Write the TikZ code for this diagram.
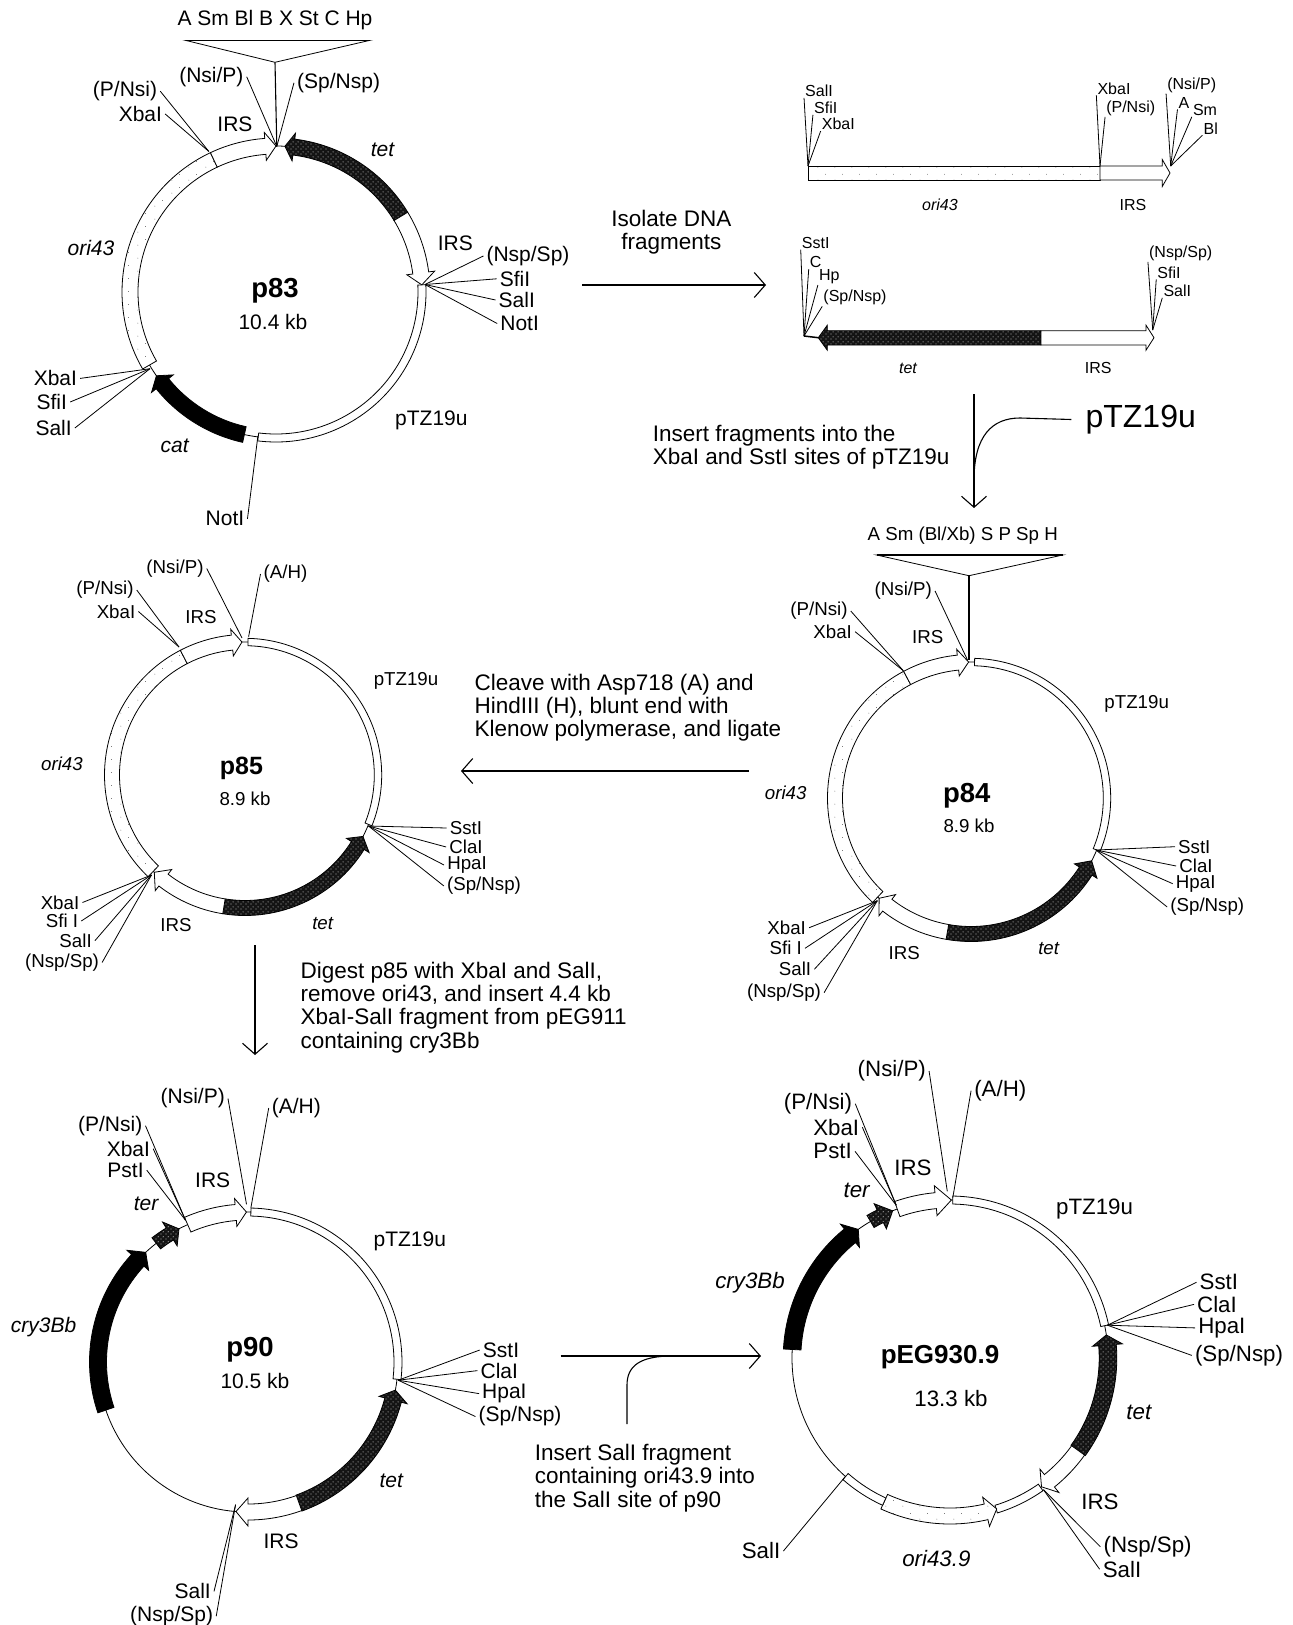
\documentclass[tikz,border=0pt]{standalone}
\usepackage{fontspec}
\setmainfont{Liberation Sans}
\usetikzlibrary{arrows.meta,positioning,patterns}

\pgfdeclarepatternformonly{sparsedots}{\pgfqpoint{0pt}{0pt}}{\pgfqpoint{17pt}{13pt}}{\pgfqpoint{17pt}{13pt}}{%
  \pgfpathcircle{\pgfqpoint{2pt}{2pt}}{.45pt}\pgfpathcircle{\pgfqpoint{10pt}{8pt}}{.45pt}\pgfusepath{fill}}
\pgfdeclarepatternformonly{tetdots}{\pgfqpoint{0pt}{0pt}}{\pgfqpoint{5pt}{5pt}}{\pgfqpoint{5pt}{5pt}}{%
  \pgfpathcircle{\pgfqpoint{1.2pt}{1.2pt}}{.75pt}\pgfpathcircle{\pgfqpoint{3.7pt}{3.7pt}}{.75pt}\pgfusepath{fill}}

\tikzset{
  lab/.style={font=\fontsize{18.7}{20}\selectfont,inner sep=3pt,yshift=-1pt},
  labm/.style={font=\fontsize{21}{23}\selectfont,inner sep=3pt,yshift=-2pt},
  labl/.style={font=\fontsize{22.3}{24}\selectfont,inner sep=3pt,yshift=-2pt},
  labs/.style={font=\fontsize{16}{17}\selectfont,inner sep=1pt},
  stepcap/.style={font=\fontsize{22.5}{23.2}\selectfont,align=left,inner sep=0pt,yshift=-3pt},
  pname/.style={font=\fontsize{27.5}{29}\selectfont\bfseries,yshift=-2pt},
  ring/.style={line width=.8pt},
  siteline/.style={line width=.8pt},
  whiteband/.style={draw,line width=.8pt,fill=white},
  oriband/.style={draw,line width=.8pt,preaction={fill=white},pattern=sparsedots,pattern color=black!70},
  tetband/.style={draw,line width=.8pt,preaction={fill=black!92},pattern=tetdots,pattern color=black!35},
  blackband/.style={draw,line width=.8pt,fill=black},
  steparrow/.style={line width=1.1pt,-{Straight Barb[length=11pt,width=25pt]}},
}

\newcommand{\bandseg}[4]{\draw[#1] (#2:{\R-#4}) arc[start angle=#2,end angle=#3,radius={\R-#4}] -- (#3:{\R+#4}) arc[start angle=#3,end angle=#2,radius={\R+#4}] -- cycle;}
\newcommand{\genearrow}[6]{\draw[#1] (#2:{\R-#5}) arc[start angle=#2,end angle=#3,radius={\R-#5}] -- (#3:{\R-#6}) -- (#4:\R) -- (#3:{\R+#6}) -- (#3:{\R+#5}) arc[start angle=#3,end angle=#2,radius={\R+#5}] -- cycle;}

\begin{document}
\begin{tikzpicture}[x=1pt,y=1pt]
\useasboundingbox (0,0) rectangle (1293,-1625);

% p83
\begin{scope}[shift={(276,-292)}]
\def\R{146}
\draw[ring] (0,0) circle[radius=\R];
\bandseg{oriband}{210}{115.2}{8}
\genearrow{whiteband}{115.2}{94.2}{90}{8}{14}
\genearrow{tetband}{31.2}{83}{86.5}{8}{14}
\genearrow{whiteband}{31.2}{7.5}{2.8}{8}{14}
\bandseg{whiteband}{2.8}{-97}{4}
\genearrow{blackband}{257.5}{218.9}{215}{8}{14}
\end{scope}
\node[pname] (p83) at (275,-289) {p83};
\node[labm] (p83size) at (273,-320) {10.4 kb};
\node[labm] (p83mcs) at (275,-18.5) {A Sm Bl B X St C Hp};
\coordinate (p83tl) at (185.7,-40.4);
\coordinate (p83tr) at (369.6,-40.4);
\coordinate (p83tb) at (275,-62.3);
\coordinate (p83a) at (276.8,-146.5);
\coordinate (p83b) at (208.9,-151.5);
\coordinate (p83c) at (425,-284.5);
\coordinate (p83d) at (150,-368.7);
\coordinate (p83e) at (257.9,-436);
\draw[siteline] (p83tl) -- (p83tr) -- (p83tb) -- cycle;
\draw[line width=1.8pt] (p83tl) -- (p83tr);
\draw[line width=1.1pt] (p83tb) -- (p83a);
\node[labm] (p83nsi) at (211.4,-74.7) {(Nsi/P)};
\node[labm] (p83sp) at (338.6,-80.8) {(Sp/Nsp)};
\node[labm] (p83pnsi) at (125,-89.2) {(P/Nsi)};
\node[labm] (p83xba) at (140.4,-112) {XbaI};
\node[labm] (p83irs) at (235,-121.9) {IRS};
\node[labm] (p83tet) at (382.9,-147.5) {\textit{tet}};
\node[labm] (p83ori) at (91,-245.8) {\textit{ori43}};
\node[labm] (p83irs2) at (455.4,-241.4) {IRS};
\node[labm] (p83nsp) at (528,-254) {(Nsp/Sp)};
\node[labm] (p83sfi) at (515,-276.8) {SfiI};
\node[labm] (p83sal) at (516.8,-298) {SalI};
\node[labm] (p83not) at (519.6,-321.5) {NotI};
\node[labm] (p83xba2) at (55.4,-376.4) {XbaI};
\node[labm] (p83sfi2) at (51.8,-400) {SfiI};
\node[labm] (p83sal2) at (53.6,-426) {SalI};
\node[labm] (p83cat) at (175,-443.8) {\textit{cat}};
\node[labm] (p83ptz) at (431.4,-418.5) {pTZ19u};
\node[labm] (p83not2) at (225,-516.8) {NotI};
\draw[siteline] (p83nsi.east) -- (p83a);
\draw[siteline] (p83sp.west) -- (p83a);
\draw[siteline] (p83pnsi.east) -- (p83b);
\draw[siteline] (p83xba.east) -- (p83b);
\foreach \l in {p83nsp,p83sfi,p83sal,p83not} \draw[siteline] (\l.west) -- (p83c);
\foreach \l in {p83xba2,p83sfi2,p83sal2} \draw[siteline] (\l.east) -- (p83d);
\draw[siteline] (p83not2.east) -- (p83e);

% fragments
\coordinate (fraga) at (808,-166);
\coordinate (fragb) at (1100,-166);
\coordinate (fragc) at (1170.7,-166);
\draw[oriband] (fraga) rectangle (1100,-180);
\draw[whiteband] (fragb) -- (1162.3,-166) -- (1162.3,-159.6) -- (1170,-173) -- (1162.3,-186.4) -- (1162.3,-180) -- (1100,-180) -- cycle;
\node[labs] (fragsal) at (819,-90.7) {SalI};
\node[labs] (fragsfi) at (825.7,-107.7) {SfiI};
\node[labs] (fragxba) at (838.3,-124) {XbaI};
\node[labs] (fragxba2) at (1114,-88.3) {XbaI};
\node[labs] (fragpnsi) at (1130.7,-108.3) {(P/Nsi)};
\node[labs] (fragnsi) at (1191.7,-85) {(Nsi/P)};
\node[labs] (fragaa) at (1184,-102.7) {A};
\node[labs] (fragsm) at (1205,-110) {Sm};
\node[labs] (fragbl) at (1210.7,-128.3) {Bl};
\node[labs] (fragori) at (940,-205) {\textit{ori43}};
\node[labs] (fragirs) at (1133,-205) {IRS};
\draw[siteline] (fragsal.south west) -- (fraga);
\draw[siteline] (fragsfi.south west) -- (fraga);
\draw[siteline] (fragxba.south west) -- (fraga);
\draw[siteline] (fragxba2.south west) -- (fragb);
\draw[siteline] (fragpnsi.south west) -- (fragb);
\draw[siteline] (fragnsi.south west) -- (fragc);
\foreach \l in {fragaa,fragsm,fragbl} \draw[siteline] (\l.south west) -- (fragc);

\coordinate (frage) at (804,-336);
\coordinate (fragf) at (1152.7,-330);
\draw[line width=1.5pt] (frage) -- (818.3,-337.7);
\draw[tetband] (1041,-330.7) -- (827.3,-330.7) -- (827.3,-325.2) -- (818.3,-337.7) -- (827.3,-350.2) -- (827.3,-345) -- (1041,-345) -- cycle;
\draw[whiteband] (1041,-330.7) -- (1146,-330.7) -- (1146,-325.2) -- (1154,-337.7) -- (1146,-350.2) -- (1146,-345) -- (1041,-345) -- cycle;
\node[labs] (fragsst) at (815.7,-242.7) {SstI};
\node[labs] (fragcc) at (815.7,-262.3) {C};
\node[labs] (fraghp) at (829.3,-276.7) {Hp};
\node[labs] (fragsp) at (855,-297.7) {(Sp/Nsp)};
\node[labs] (fragnsp) at (1180.7,-253.3) {(Nsp/Sp)};
\node[labs] (fragsfi2) at (1169,-272.3) {SfiI};
\node[labs] (fragsal2) at (1177.3,-290.7) {SalI};
\node[labs] (fragtet) at (908.3,-368.3) {\textit{tet}};
\node[labs] (fragirs2) at (1098.3,-368.3) {IRS};
\foreach \l in {fragsst,fragcc,fraghp,fragsp} \draw[siteline] (\l.south west) -- (frage);
\foreach \l in {fragnsp,fragsfi2,fragsal2} \draw[siteline] (\l.south west) -- (fragf);

% p84
\begin{scope}[shift={(971,-798)}]
\def\R{136}
\draw[ring] (0,0) circle[radius=\R];
\bandseg{oriband}{226.7}{118}{7.5}
\genearrow{whiteband}{118}{95.5}{91}{7.5}{13.4}
\bandseg{whiteband}{88.5}{-22.5}{3.7}
\genearrow{tetband}{-100}{-32.5}{-27.5}{7.5}{13.4}
\genearrow{whiteband}{260}{232}{227.5}{7.5}{13.4}
\end{scope}
\node[pname] (p84) at (966.7,-794) {p84};
\node[lab] (p84size) at (969,-825) {8.9 kb};
\node[lab] (p84mcs) at (962.7,-535) {A Sm (Bl/Xb) S P Sp H};
\coordinate (p84tl) at (876.7,-555);
\coordinate (p84tr) at (1062.7,-555);
\coordinate (p84tb) at (969,-575.7);
\coordinate (p84a) at (967.5,-660);
\coordinate (p84b) at (903.3,-670.7);
\coordinate (p84c) at (1096,-850);
\coordinate (p84d) at (877.3,-900.7);
\draw[siteline] (p84tl) -- (p84tr) -- (p84tb) -- cycle;
\draw[line width=1.8pt] (p84tl) -- (p84tr);
\draw[line width=1.1pt] (p84tb) -- (969,-660);
\node[lab] (p84nsi) at (903.3,-590) {(Nsi/P)};
\node[lab] (p84pnsi) at (819,-610) {(P/Nsi)};
\node[lab] (p84xba) at (832.7,-630.7) {XbaI};
\node[lab] (p84irs) at (927.7,-636) {IRS};
\node[lab] (p84ptz) at (1136.7,-702.7) {pTZ19u};
\node[lab] (p84ori) at (785.7,-791.7) {\textit{ori43}};
\node[lab] (p84sst) at (1194.3,-845.7) {SstI};
\node[lab] (p84cla) at (1196,-865) {ClaI};
\node[lab] (p84hpa) at (1195.7,-882.7) {HpaI};
\node[lab] (p84sp) at (1207.3,-906) {(Sp/Nsp)};
\node[lab] (p84xba2) at (786.7,-926.7) {XbaI};
\node[lab] (p84sfi) at (785.7,-947.3) {Sfi I};
\node[lab] (p84sal) at (795,-968.3) {SalI};
\node[lab] (p84nsp) at (784,-991.7) {(Nsp/Sp)};
\node[lab] (p84irs2) at (904.3,-951.7) {IRS};
\node[lab] (p84tet) at (1049,-947.3) {\textit{tet}};
\draw[siteline] (p84nsi.east) -- (p84a);
\draw[siteline] (p84pnsi.east) -- (p84b);
\draw[siteline] (p84xba.east) -- (p84b);
\foreach \l in {p84sst,p84cla,p84hpa,p84sp} \draw[siteline] (\l.west) -- (p84c);
\foreach \l in {p84xba2,p84sfi,p84sal,p84nsp} \draw[siteline] (\l.east) -- (p84d);

% p85
\begin{scope}[shift={(245,-775)}]
\def\R{133}
\draw[ring] (0,0) circle[radius=\R];
\bandseg{oriband}{226.4}{117.4}{7.5}
\genearrow{whiteband}{117.4}{95.6}{91.3}{7.5}{13.4}
\bandseg{whiteband}{88.7}{-21.8}{3.7}
\genearrow{tetband}{-99.1}{-32}{-27.5}{7.5}{13.4}
\genearrow{whiteband}{260.9}{232.2}{227}{7.5}{13.4}
\end{scope}
\node[pname,font=\fontsize{25}{27}\selectfont\bfseries] (p85) at (241.5,-766) {p85};
\node[lab] (p85size) at (245,-798) {8.9 kb};
\coordinate (p85a) at (242,-638);
\coordinate (p85b) at (248.6,-636.7);
\coordinate (p85c) at (179,-647);
\coordinate (p85d) at (368.5,-826);
\coordinate (p85e) at (151.5,-875);
\node[lab] (p85nsi) at (175,-567.5) {(Nsi/P)};
\node[lab] (p85ah) at (285.5,-573) {(A/H)};
\node[lab] (p85pnsi) at (105,-589) {(P/Nsi)};
\node[lab] (p85xba) at (116,-610.5) {XbaI};
\node[lab] (p85irs) at (201,-616) {IRS};
\node[lab] (p85ptz) at (406,-680) {pTZ19u};
\node[lab] (p85ori) at (62,-763) {\textit{ori43}};
\node[lab] (p85sst) at (466,-827) {SstI};
\node[lab] (p85cla) at (466,-846) {ClaI};
\node[lab] (p85hpa) at (467,-864) {HpaI};
\node[lab] (p85sp) at (484,-885) {(Sp/Nsp)};
\node[lab] (p85xba2) at (60,-901.5) {XbaI};
\node[lab] (p85sfi) at (62,-920) {Sfi I};
\node[lab] (p85sal) at (75.6,-939.7) {SalI};
\node[lab] (p85nsp) at (62,-961.5) {(Nsp/Sp)};
\node[lab] (p85irs2) at (176,-924.5) {IRS};
\node[lab] (p85tet) at (323,-922.5) {\textit{tet}};
\draw[siteline] (p85nsi.east) -- (p85a);
\draw[siteline] (p85ah.west) -- (p85b);
\draw[siteline] (p85pnsi.east) -- (p85c);
\draw[siteline] (p85xba.east) -- (p85c);
\foreach \l in {p85sst,p85cla,p85hpa,p85sp} \draw[siteline] (\l.west) -- (p85d);
\foreach \l in {p85xba2,p85sfi,p85sal,p85nsp} \draw[siteline] (\l.east) -- (p85e);

% p90
\begin{scope}[shift={(248,-1362)}]
\def\R{150}
\draw[ring] (0,0) circle[radius=\R];
\genearrow{whiteband}{113.7}{94.7}{90.6}{8}{14}
\bandseg{whiteband}{88.9}{-6.6}{4}
\genearrow{tetband}{-70.1}{-14.7}{-10.8}{8.5}{14.5}
\genearrow{whiteband}{-70.1}{-90}{-94.6}{8}{14}
\genearrow{blackband}{198.7}{137.3}{133}{8.5}{14.8}
\genearrow{tetband}{127.7}{121.4}{117.4}{7}{14}
\end{scope}
\node[pname] (p90) at (250,-1347.4) {p90};
\node[labm] (p90size) at (255,-1379) {10.5 kb};
\coordinate (p90a) at (246.5,-1204.3);
\coordinate (p90b) at (250.9,-1207.8);
\coordinate (p90c) at (185.5,-1220.2);
\coordinate (p90d) at (398.2,-1380.2);
\coordinate (p90e) at (235.6,-1504.6);
\node[labm] (p90nsi) at (192.7,-1096.5) {(Nsi/P)};
\node[labm] (p90ah) at (296.4,-1106) {(A/H)};
\node[labm] (p90pnsi) at (110.2,-1123.7) {(P/Nsi)};
\node[labm] (p90xba) at (128.4,-1146.7) {XbaI};
\node[labm] (p90pst) at (125.5,-1168.2) {PstI};
\node[labm] (p90irs) at (212.7,-1177.8) {IRS};
\node[labm] (p90ter) at (146.5,-1201.4) {\textit{ter}};
\node[labm] (p90ptz) at (409.8,-1239.6) {pTZ19u};
\node[labm] (p90cry) at (43.6,-1325) {\textit{cry3Bb}};
\node[labm] (p90sst) at (501,-1348) {SstI};
\node[labm] (p90cla) at (499.3,-1368.6) {ClaI};
\node[labm] (p90hpa) at (504.4,-1391.6) {HpaI};
\node[labm] (p90sp) at (520,-1414.5) {(Sp/Nsp)};
\node[labm] (p90tet) at (391.6,-1479.2) {\textit{tet}};
\node[labm] (p90irs2) at (281,-1538.9) {IRS};
\node[labm] (p90sal) at (192.7,-1589.4) {SalI};
\node[labm] (p90nsp) at (171.6,-1614.2) {(Nsp/Sp)};
\draw[siteline] (p90nsi.east) -- (p90a);
\draw[siteline] (p90ah.west) -- (p90b);
\foreach \l in {p90pnsi,p90xba,p90pst} \draw[siteline] (\l.east) -- (p90c);
\foreach \l in {p90sst,p90cla,p90hpa,p90sp} \draw[siteline] (\l.west) -- (p90d);
\foreach \l in {p90sal,p90nsp} \draw[siteline] (\l.east) -- (p90e);

% pEG930.9
\begin{scope}[shift={(950,-1358)}]
\def\R{158}
\draw[ring] (0,0) circle[radius=\R];
\bandseg{whiteband}{89}{11.8}{4}
\genearrow{whiteband}{109.5}{95.2}{89.5}{8}{15}
\genearrow{tetband}{120.2}{116.2}{111.3}{7}{14}
\genearrow{blackband}{176.9}{129.3}{125.5}{8.8}{15}
\genearrow{tetband}{-35.8}{4.7}{8.4}{8.8}{15}
\genearrow{whiteband}{-35.8}{-51}{-54.6}{8}{15}
\bandseg{whiteband}{-55}{-73}{4}
\genearrow{oriband}{-114.6}{-76.8}{-72.8}{8}{15}
\bandseg{whiteband}{228.6}{245.4}{4}
\end{scope}
\node[pname,font=\fontsize{26}{28}\selectfont\bfseries] (peg) at (940,-1355) {pEG930.9};
\node[labl] (pegsize) at (951,-1396.6) {13.3 kb};
\coordinate (pega) at (947.3,-1191.4);
\coordinate (pegb) at (952.8,-1197.6);
\coordinate (pegc) at (896.2,-1205.2);
\coordinate (pegd) at (1107.4,-1325.2);
\coordinate (pege) at (1043.5,-1489.7);
\coordinate (pegf) at (845,-1476.9);
\node[labl] (pegnsi) at (891.8,-1069) {(Nsi/P)};
\node[labl] (pegah) at (1000.3,-1088.6) {(A/H)};
\node[labl] (pegpnsi) at (818,-1101.7) {(P/Nsi)};
\node[labl] (pegxba) at (836.2,-1125.2) {XbaI};
\node[labl] (pegpst) at (832.6,-1149.3) {PstI};
\node[labl] (pegirs) at (913,-1165.5) {IRS};
\node[labl] (pegter) at (857,-1188) {\textit{ter}};
\node[labl] (pegptz) at (1094.6,-1206.9) {pTZ19u};
\node[labl] (pegcry) at (750,-1281) {\textit{cry3Bb}};
\node[labl] (pegsst) at (1218.9,-1280.3) {SstI};
\node[labl] (pegcla) at (1217,-1302.4) {ClaI};
\node[labl] (peghpa) at (1221.8,-1325.9) {HpaI};
\node[labl] (pegsp) at (1239,-1353.4) {(Sp/Nsp)};
\node[labl] (pegtet) at (1139.2,-1410.3) {\textit{tet}};
\node[labl] (pegirs2) at (1100,-1500) {IRS};
\node[labl] (pegnsp) at (1147.6,-1544.8) {(Nsp/Sp)};
\node[labl] (pegsal) at (1122,-1567.2) {SalI};
\node[labl] (pegori) at (936.4,-1556.2) {\textit{ori43.9}};
\node[labl] (pegsal2) at (761,-1549) {SalI};
\draw[siteline] (pegnsi.east) -- (pega);
\draw[siteline] (pegah.west) -- (pegb);
\foreach \l in {pegpnsi,pegxba,pegpst} \draw[siteline] (\l.east) -- (pegc);
\foreach \l in {pegsst,pegcla,peghpa,pegsp} \draw[siteline] (\l.west) -- (pegd);
\foreach \l in {pegnsp,pegsal} \draw[siteline] (\l.west) -- (pege);
\draw[siteline] (pegsal2.east) -- (pegf);

% steps
\coordinate (stepaa) at (582,-285);
\coordinate (stepab) at (766,-285);
\draw[steparrow] (stepaa) -- (stepab);
\node[stepcap,align=center] (isolate) at (671.4,-229) {Isolate DNA\\fragments};

\coordinate (stepba) at (974,-394);
\coordinate (stepbb) at (974,-508);
\coordinate (stepbc) at (974,-480);
\draw[steparrow] (stepba) -- (stepbb);
\node[font=\fontsize{32}{34}\selectfont,inner sep=14pt,yshift=-2pt] (bigptz) at (1140.7,-417.5) {pTZ19u};
\draw[line width=1.1pt] (bigptz.west) -- (1020,-418) .. controls (992,-418) and (974,-436) .. (stepbc);
\node[stepcap,anchor=west] (insert) at (652.7,-444.5) {Insert fragments into the\\XbaI and SstI sites of pTZ19u};

\coordinate (stepca) at (749,-771);
\coordinate (stepcb) at (461,-771);
\draw[steparrow] (stepca) -- (stepcb);
\node[stepcap,anchor=west] (cleave) at (474.5,-704.5) {Cleave with Asp718 (A) and\\HindIII (H), blunt end with\\Klenow polymerase, and ligate};

\coordinate (stepda) at (255,-945);
\coordinate (stepdb) at (255,-1055);
\draw[steparrow] (stepda) -- (stepdb);
\node[stepcap,anchor=west] (digest) at (300.5,-1004.4) {Digest p85 with XbaI and SalI,\\remove ori43, and insert 4.4 kb\\XbaI-SalI fragment from pEG911\\containing cry3Bb};

\coordinate (stepea) at (560.5,-1356);
\coordinate (stepeb) at (761,-1356);
\coordinate (stepec) at (627,-1424);
\coordinate (steped) at (672,-1356);
\draw[steparrow] (stepea) -- (stepeb);
\draw[line width=1.1pt] (stepec) -- (627,-1385) .. controls (627,-1366) and (640,-1356) .. (steped);
\node[stepcap,anchor=west] (insertb) at (534.6,-1475) {Insert SalI fragment\\containing ori43.9 into\\the SalI site of p90};
\end{tikzpicture}
\end{document}
